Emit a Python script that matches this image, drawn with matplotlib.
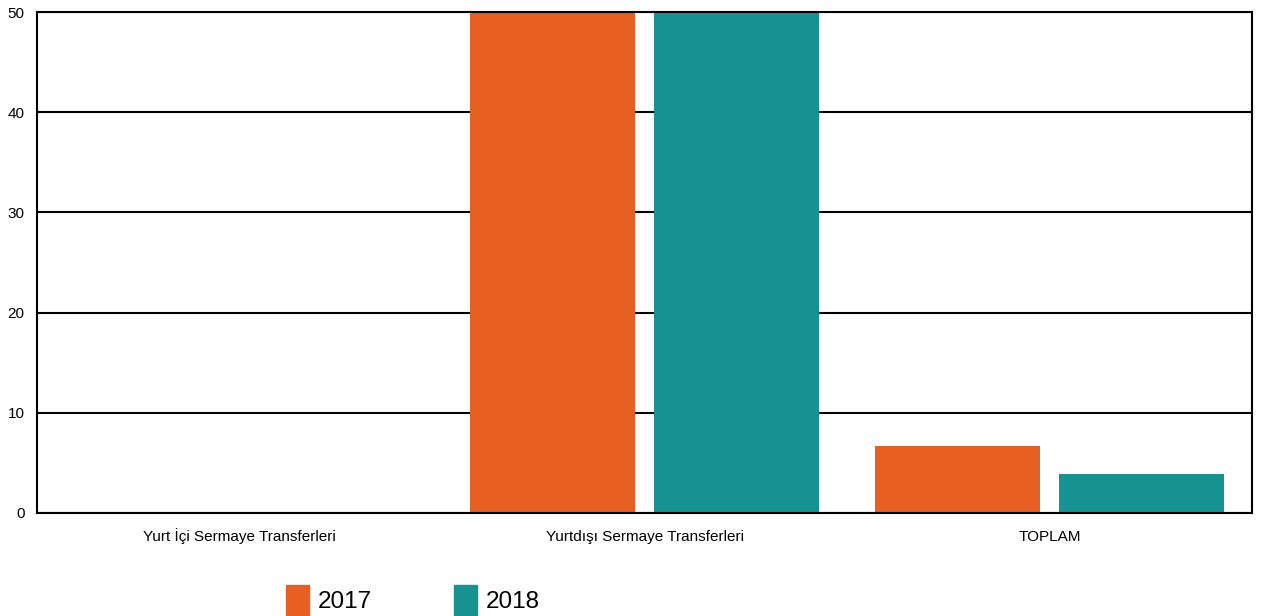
import numpy as np
import matplotlib.pyplot as plt
from matplotlib.patches import Patch

plt.rcParams['font.family'] = ['Liberation Sans', 'DejaVu Sans']

categories = ['Yurt İçi Sermaye Transferleri', 'Yurtdışı Sermaye Transferleri', 'TOPLAM']
years = ['2017', '2018']
values_2017 = [0, 93.3, 6.7]
values_2018 = [0, 96.1, 3.9]
colors = ['#e75f22', '#169390']

fig = plt.figure(figsize=(12.62, 6.16), dpi=100)
ax = fig.add_axes([37 / 1262, 103 / 616, 1215 / 1262, 501 / 616])

x = np.arange(len(categories))
w = 0.407
off = 0.227
ax.bar(x - off, values_2017, w, color=colors[0], zorder=2)
ax.bar(x + off, values_2018, w, color=colors[1], zorder=2)

ax.set_xlim(-0.5, 2.5)
ax.set_ylim(0, 50)
ax.set_yticks([0, 10, 20, 30, 40, 50])
ax.set_xticks(x)
ax.set_xticklabels(categories)
for lbl in ax.get_xticklabels():
    lbl.set_va('baseline')
ax.yaxis.grid(True, color='black', linewidth=1.5, zorder=1)
ax.set_axisbelow(True)
ax.tick_params(length=0, labelsize=11)
ax.tick_params(axis='y', pad=9)
ax.tick_params(axis='x', pad=20)
for s in ax.spines.values():
    s.set_linewidth(1.5)
    s.set_color('black')

handles = [Patch(color=colors[0]), Patch(color=colors[1])]
fig.legend(handles, years, loc='upper left', bbox_to_anchor=(286 / 1262, 1 - 585 / 616),
           ncol=2, frameon=False, fontsize=17.5, handlelength=0.95, handleheight=1.5,
           handletextpad=0.35, columnspacing=3.4, borderpad=0, borderaxespad=0)

fig.savefig('out.png', dpi=100)
